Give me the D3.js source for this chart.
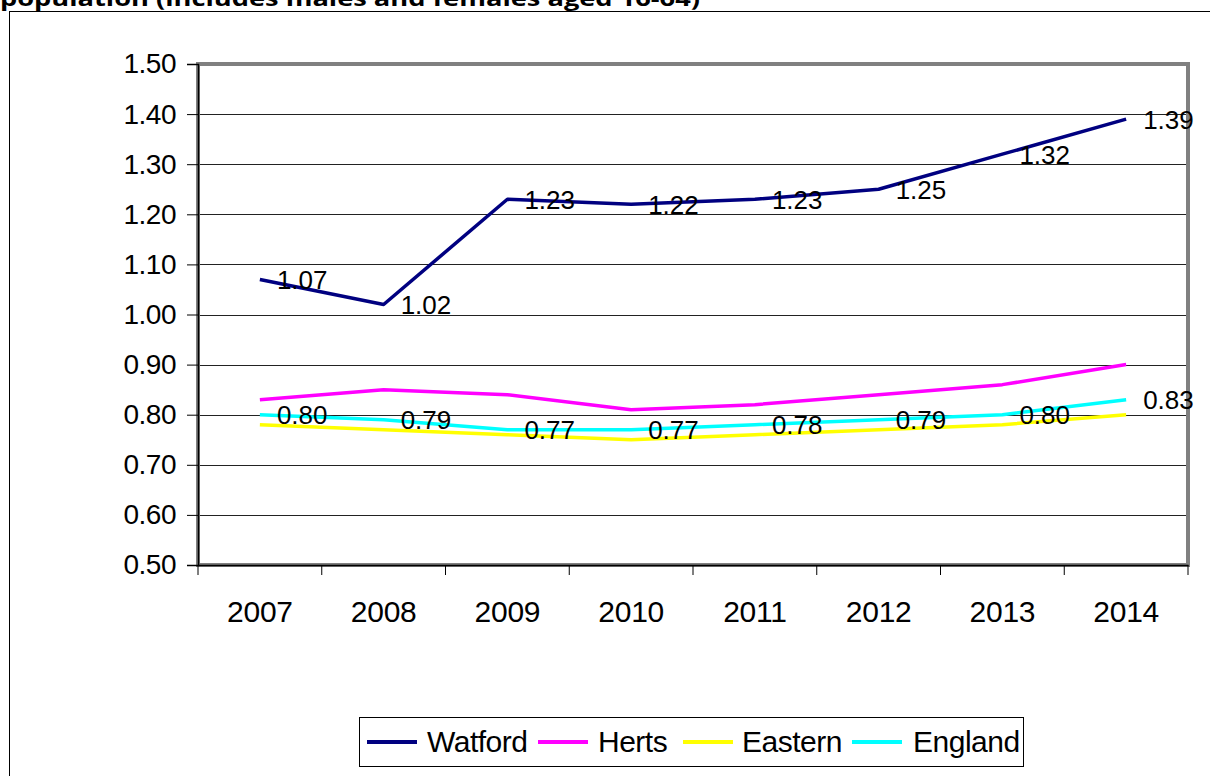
<!DOCTYPE html>
<html><head><meta charset="utf-8">
<script src="https://cdn.jsdelivr.net/npm/d3@7/dist/d3.min.js"></script>
<style>
html,body{margin:0;padding:0;background:#fff;overflow:hidden;}
svg{display:block;}
</style></head>
<body>
<script>
const years = ["2007","2008","2009","2010","2011","2012","2013","2014"];
const watford = [1.07,1.02,1.23,1.22,1.23,1.25,1.32,1.39];
const herts   = [0.83,0.85,0.84,0.81,0.82,0.84,0.86,0.90];
const eastern = [0.78,0.77,0.76,0.75,0.76,0.77,0.78,0.80];
const england = [0.80,0.79,0.77,0.77,0.78,0.79,0.80,0.83];
const yTicks = [0.5,0.6,0.7,0.8,0.9,1.0,1.1,1.2,1.3,1.4,1.5];
const seriesNames = ["Watford","Herts","Eastern","England"];
const seriesColors = ["#000080","#FF00FF","#FFFF00","#00FFFF"];
const seriesValues = [watford, herts, eastern, england];
const labelled = [true,false,false,true];
const titleText = "population (includes males and females aged 16-64)";

const W = 1210, H = 776;
const svg = d3.select("body").append("svg").attr("width", W).attr("height", H);

// title (partly cut off at top, as in the reference)
svg.append("text").attr("x", 0).attr("y", 6)
  .attr("font-family", "'Open Sans', 'DejaVu Sans', sans-serif")
  .attr("font-weight", "bold").attr("font-size", 22)
  .attr("textLength", 700).attr("lengthAdjust", "spacingAndGlyphs")
  .text(titleText);

// outer chart border
svg.append("rect").attr("x", 9.5).attr("y", 11.5).attr("width", W + 20).attr("height", H + 20)
  .attr("fill", "none").attr("stroke", "#000").attr("stroke-width", 1);

const plot = {l: 198, t: 64, r: 1188, b: 565};
const x = d3.scaleBand().domain(years).range([plot.l, plot.r]).padding(0);
const y = d3.scaleLinear().domain([0.5, 1.5]).range([plot.b, plot.t]);

const font = "'Liberation Sans', Arial, sans-serif";

// gridlines
svg.append("g").selectAll("line").data(yTicks.slice(1, -1)).join("line")
  .attr("x1", plot.l).attr("x2", plot.r)
  .attr("y1", d => Math.round(y(d)) + 0.5).attr("y2", d => Math.round(y(d)) + 0.5)
  .attr("stroke", "#222").attr("stroke-width", 1);

// plot border (gray)
svg.append("rect").attr("x", plot.l).attr("y", plot.t)
  .attr("width", plot.r - plot.l).attr("height", plot.b - plot.t)
  .attr("fill", "none").attr("stroke", "#808080").attr("stroke-width", 4);

// y axis
const yAxis = d3.axisLeft(y).tickValues(yTicks).tickFormat(d3.format(".2f")).tickSize(11).tickPadding(11);
const gy = svg.append("g").attr("transform", `translate(${plot.l},0)`).call(yAxis);
gy.select(".domain").attr("stroke", "#000").attr("stroke-width", 1.5);
gy.selectAll(".tick line").attr("stroke", "#000");
gy.selectAll("text").attr("font-family", font).attr("font-size", 28)
  .attr("letter-spacing", -0.5).attr("fill", "#000");

// x axis
const xAxis = d3.axisBottom(x).tickSize(0).tickPadding(36);
const gx = svg.append("g").attr("transform", `translate(0,${plot.b})`).call(xAxis);
gx.select(".domain").attr("stroke", "#000").attr("stroke-width", 1.5);
gx.selectAll("text").attr("font-family", font).attr("font-size", 30)
  .attr("letter-spacing", -0.3).attr("fill", "#000");
// category boundary ticks
const edges = years.map(d => x(d)).concat([x(years[years.length - 1]) + x.bandwidth()]);
gx.append("g").selectAll("line").data(edges).join("line")
  .attr("x1", d => d).attr("x2", d => d).attr("y1", 0).attr("y2", 10)
  .attr("stroke", "#000").attr("stroke-width", 1);

// lines
const line = d3.line().x((d, i) => x(years[i]) + x.bandwidth() / 2).y(d => y(d));
seriesValues.forEach((vals, k) => {
  svg.append("path").datum(vals).attr("d", line)
    .attr("fill", "none").attr("stroke", seriesColors[k]).attr("stroke-width", 3.5)
    .attr("stroke-linejoin", "round");
});

// data labels
seriesValues.forEach((vals, k) => {
  if (!labelled[k]) return;
  svg.append("g").selectAll("text").data(vals).join("text")
    .attr("x", (d, i) => x(years[i]) + x.bandwidth() / 2 + 17)
    .attr("y", d => y(d) + 9.5)
    .attr("font-family", font).attr("font-size", 26).attr("letter-spacing", 0)
    .attr("fill", "#000")
    .text(d => d3.format(".2f")(d));
});

// legend
const lg = svg.append("g");
lg.append("rect").attr("x", 359.5).attr("y", 717.5).attr("width", 664).attr("height", 49)
  .attr("fill", "#fff").attr("stroke", "#000").attr("stroke-width", 1);
const legendX = [367, 538, 683, 852];
const legendTextX = [427, 598, 742, 913];
seriesNames.forEach((n, k) => {
  lg.append("line").attr("x1", legendX[k]).attr("x2", legendX[k] + 50)
    .attr("y1", 742).attr("y2", 742).attr("stroke", seriesColors[k]).attr("stroke-width", 4);
  lg.append("text").attr("x", legendTextX[k]).attr("y", 752)
    .attr("font-family", font).attr("font-size", 30).attr("letter-spacing", -0.5)
    .attr("fill", "#000").text(n);
});
</script>
</body></html>
